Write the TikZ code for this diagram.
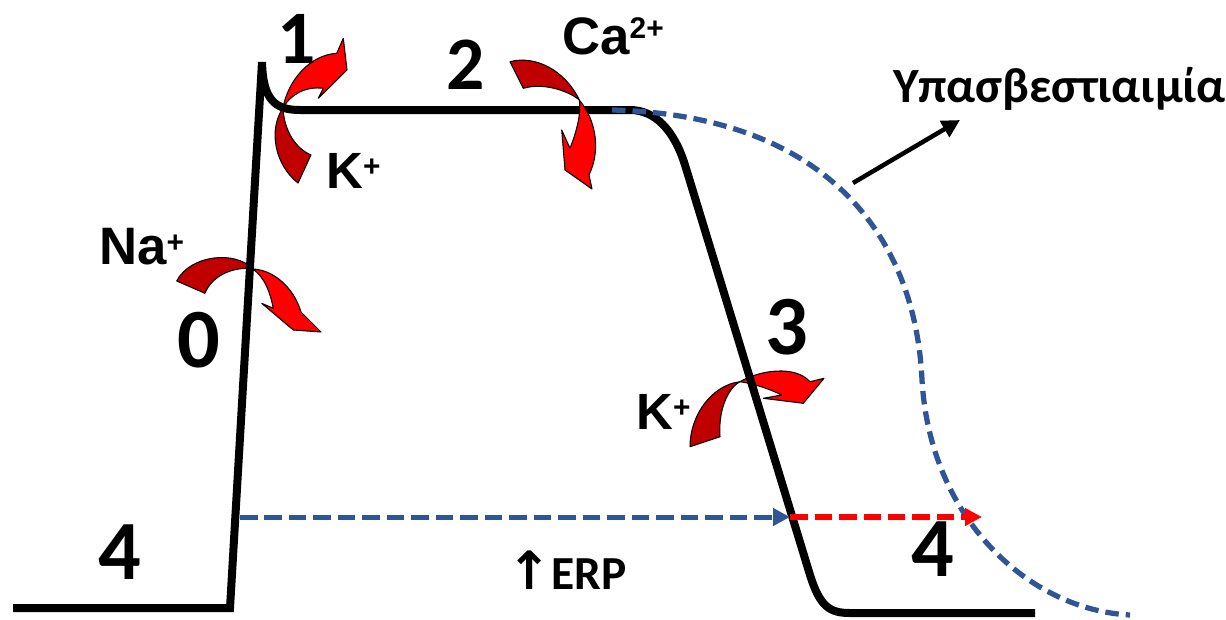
\documentclass[tikz,border=0pt]{standalone}
\usepackage{fontspec}
\setmainfont{Carlito}
\newfontfamily\arialf{Liberation Sans}
\newfontfamily\dejavuf{DejaVu Sans}
\usetikzlibrary{arrows.meta}
\definecolor{apblue}{HTML}{2F5597}
\definecolor{apred}{HTML}{FF0000}
\definecolor{apdark}{HTML}{C00000}
\newcommand{\ionsup}[1]{\raisebox{6.5pt}{\fontsize{17}{17}\selectfont #1}}
\begin{document}
\begin{tikzpicture}[x=0.02cm,y=-0.02cm,
  apcurve/.style={draw=black, line width=0.16cm},
  bluecurve/.style={draw=apblue, line width=0.105cm, dash pattern=on 0.27cm off 0.14cm},
  erpblue/.style={draw=apblue, line width=0.1cm, dash pattern=on 0.35cm off 0.14cm, -{Triangle[length=0.34cm,width=0.34cm]}},
  erpred/.style={draw=apred, line width=0.11cm, dash pattern=on 0.35cm off 0.14cm, -{Triangle[length=0.34cm,width=0.34cm]}},
  pointer/.style={draw=black, line width=0.09cm, -{Triangle[length=0.36cm,width=0.36cm]}},
  arrdark/.style={fill=apdark, draw=black, line width=0.6pt, line join=round},
  arrlight/.style={fill=apred, draw=black, line width=0.6pt, line join=round},
  digit/.style={font=\bfseries\fontsize{48}{48}\selectfont, inner sep=0},
  smalldigit/.style={font=\bfseries\fontsize{43}{43}\selectfont, inner sep=0},
  ion/.style={font=\arialf\bfseries\fontsize{30}{32}\selectfont, anchor=base west, inner sep=0},
  ionk/.style={font=\arialf\bfseries\fontsize{29}{32}\selectfont, anchor=base west, inner sep=0},
  note/.style={font=\bfseries\fontsize{28}{30}\selectfont, anchor=base west, inner sep=0}
]
\useasboundingbox (0,0) rectangle (1226,619);

% Na+ arrow (under the curve)
\draw[arrdark] (176.7,281) .. controls (190,255) and (235,250) .. (253,269)
  .. controls (235,266) and (212,275) .. (205,293.3) -- cycle;
\draw[arrlight] (253,269) .. controls (274,270) and (294,288) .. (301,312)
  -- (321,332) -- (293.3,330) -- (261.7,303.3) -- (273.3,308.3)
  .. controls (270,292) and (265,278) .. (253,269) -- cycle;

% K+ lower arrow (under the curve)
\draw[arrdark] (690,446.7) .. controls (690,415) and (712,385) .. (740,381.7)
  .. controls (728,388) and (718,410) .. (720,436.7) -- cycle;
\draw[arrlight] (740,381.7) .. controls (760,370) and (795,365) .. (810,381.7)
  -- (824,378.3) -- (803.3,403.3) -- (763.3,398.3) -- (781.7,395)
  .. controls (768,388) and (750,383) .. (740,381.7) -- cycle;

% action potential
\draw[apcurve] (13,608) -- (230,608) -- (262,62)
  .. controls (263,100) and (275,110) .. (300,110) -- (630,110)
  .. controls (655,110) and (674,130) .. (685,165) -- (810,575)
  .. controls (820,607) and (830,613) .. (850,613) -- (1035,613);

% hypocalcaemia curve
\draw[bluecurve] (612,110) .. controls (820,115) and (915,230) .. (922,380)
  .. controls (930,520) and (1030,610) .. (1130,615);

% Ca2+ arrow
\draw[arrdark] (510,61.7) .. controls (535,55) and (565,70) .. (579.3,100)
  .. controls (570,92) and (545,82) .. (523.3,88.3) -- cycle;
\draw[arrlight] (579.3,100) .. controls (596,120) and (601,150) .. (589,175)
  -- (592,189) -- (565,170) -- (561.7,130) -- (570,148.3)
  .. controls (578,128) and (581,112) .. (579.3,100) -- cycle;

% K+ upper arrow
\draw[arrdark] (283,108) .. controls (268,130) and (275,165) .. (298,183)
  -- (311,155) .. controls (295,148) and (284,130) .. (283,108) -- cycle;
\draw[arrlight] (283,108) .. controls (288,80) and (310,55) .. (336.7,53.3)
  -- (343.3,38.3) -- (347,70) -- (318.3,98.3) -- (323.3,88.3)
  .. controls (305,86) and (290,95) .. (283,108) -- cycle;

% ERP arrows
\coordinate (erpA) at (240,517);
\coordinate (erpB) at (790,517);
\coordinate (erpC) at (982,517);
\draw[erpblue] (erpA) -- (erpB);
\draw[erpred] (erpB) -- (erpC);

% pointer arrow
\coordinate (ptA) at (853,183);
\coordinate (ptB) at (960,120);
\draw[pointer] (ptA) -- (ptB);

% phase numbers
\node[smalldigit] (p1) at (297,39) {1};
\node[smalldigit] (p2) at (466,65) {2};
\node[digit] (p3) at (787,327) {3};
\node[digit] (p0) at (199,340) {0};
\node[digit] (p4a) at (120,552) {4};
\node[digit] (p4b) at (933,549) {4};

% ions
\node[ion] (na) at (99,264) {Na\ionsup{+}};
\node[ionk] (k1) at (326,188) {K\ionsup{+}};
\node[ionk] (k2) at (636,429) {K\ionsup{+}};
\node[ion] (ca) at (562,54) {Ca\raisebox{9pt}{\fontsize{17}{17}\selectfont 2+}};

% notes
\node[note] (hypo) at (893,102) {Υπασβεστιαιμία};
\node[font=\bfseries\fontsize{27}{30}\selectfont, anchor=base west, inner sep=0] (erp) at (507,589) {{\dejavuf\fontsize{30}{30}\selectfont ↑}ERP};
\end{tikzpicture}
\end{document}
